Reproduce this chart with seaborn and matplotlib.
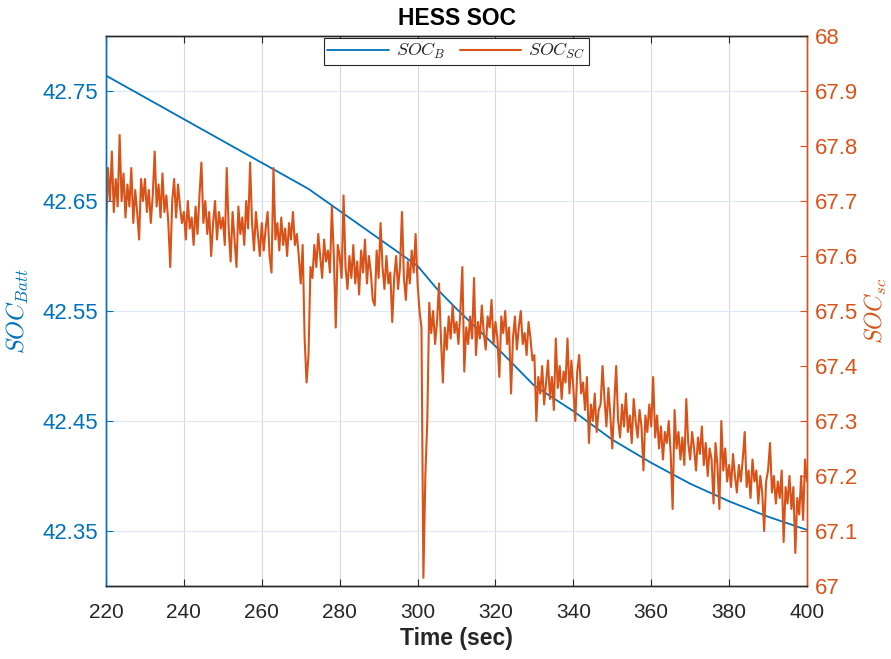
import numpy as np
import pandas as pd
import matplotlib
matplotlib.use("Agg")
import matplotlib.pyplot as plt
import seaborn as sns

# battery SOC (left axis), read at a few break points
t_batt = [220, 272, 280, 290, 300, 305, 310, 320, 330, 340, 350, 360, 370, 380, 390, 400]
soc_batt = [42.764, 42.661, 42.641, 42.616, 42.591, 42.570, 42.552, 42.518, 42.482,
            42.459, 42.433, 42.412, 42.393, 42.377, 42.363, 42.351]

# supercap SOC (right axis), sampled every 0.5 s from 220 to 400
t_sc_start, t_sc_step = 220.0, 0.5
soc_sc = [
    # 220
    67.64, 67.76, 67.70, 67.79, 67.68, 67.74, 67.69, 67.82, 67.70, 67.75,
    67.67, 67.73, 67.69, 67.76, 67.66, 67.72, 67.68, 67.63, 67.74, 67.70,
    # 230
    67.74, 67.68, 67.72, 67.66, 67.71, 67.79, 67.69, 67.73, 67.67, 67.75,
    67.68, 67.71, 67.66, 67.58, 67.70, 67.74, 67.67, 67.73, 67.69, 67.66,
    # 240
    67.68, 67.63, 67.70, 67.65, 67.67, 67.62, 67.69, 67.64, 67.71, 67.77,
    67.66, 67.70, 67.64, 67.68, 67.60, 67.66, 67.70, 67.63, 67.68, 67.65,
    # 250
    67.67, 67.62, 67.76, 67.65, 67.59, 67.68, 67.63, 67.58, 67.69, 67.64,
    67.67, 67.62, 67.70, 67.65, 67.77, 67.66, 67.61, 67.68, 67.64, 67.60,
    # 260
    67.66, 67.61, 67.65, 67.68, 67.60, 67.57, 67.76, 67.63, 67.66, 67.61,
    67.67, 67.62, 67.65, 67.60, 67.66, 67.63, 67.68, 67.62, 67.64, 67.60,
    # 270
    67.55, 67.62, 67.45, 67.37, 67.42, 67.58, 67.56, 67.62, 67.58, 67.64,
    67.60, 67.56, 67.63, 67.59, 67.61, 67.57, 67.69, 67.60, 67.47, 67.62,
    # 280
    67.60, 67.56, 67.71, 67.58, 67.54, 67.60, 67.56, 67.62, 67.55, 67.59,
    67.53, 67.61, 67.57, 67.63, 67.55, 67.60, 67.57, 67.52, 67.51, 67.61,
    # 290
    67.56, 67.66, 67.58, 67.54, 67.60, 67.55, 67.57, 67.48, 67.56, 67.60,
    67.54, 67.58, 67.68, 67.56, 67.52, 67.59, 67.55, 67.61, 67.57, 67.64,
    # 300
    67.55, 67.50, 67.47, 67.015, 67.20, 67.30, 67.515, 67.46, 67.50, 67.44,
    67.48, 67.55, 67.45, 67.37, 67.47, 67.43, 67.49, 67.45, 67.51, 67.46,
    # 310
    67.48, 67.44, 67.50, 67.58, 67.39, 67.47, 67.44, 67.49, 67.45, 67.56,
    67.42, 67.48, 67.45, 67.51, 67.46, 67.43, 67.49, 67.47, 67.52, 67.44,
    # 320
    67.48, 67.45, 67.38, 67.49, 67.46, 67.50, 67.44, 67.47, 67.35, 67.45,
    67.49, 67.43, 67.47, 67.50, 67.44, 67.46, 67.42, 67.48, 67.45, 67.41,
    # 330
    67.42, 67.30, 67.38, 67.35, 67.40, 67.33, 67.37, 67.41, 67.34, 67.38,
    67.32, 67.45, 67.36, 67.40, 67.34, 67.39, 67.37, 67.45, 67.35, 67.41,
    # 340
    67.36, 67.30, 67.39, 67.42, 67.35, 67.37, 67.32, 67.38, 67.26, 67.33,
    67.30, 67.35, 67.28, 67.32, 67.33, 67.40, 67.34, 67.29, 67.36, 67.31,
    # 350
    67.25, 67.33, 67.40, 67.30, 67.27, 67.33, 67.29, 67.35, 67.28, 67.31,
    67.26, 67.34, 67.30, 67.27, 67.32, 67.29, 67.21, 67.31, 67.28, 67.33,
    # 360
    67.29, 67.38, 67.27, 67.31, 67.25, 67.29, 67.23, 67.28, 67.26, 67.30,
    67.24, 67.14, 67.32, 67.25, 67.28, 67.23, 67.27, 67.22, 67.34, 67.26,
    # 370
    67.23, 67.28, 67.25, 67.21, 67.27, 67.24, 67.29, 67.22, 67.26, 67.20,
    67.25, 67.23, 67.15, 67.26, 67.22, 67.14, 67.30, 67.21, 67.25, 67.19,
    # 380
    67.22, 67.18, 67.24, 67.20, 67.17, 67.22, 67.19, 67.23, 67.28, 67.18,
    67.21, 67.16, 67.23, 67.19, 67.21, 67.15, 67.20, 67.17, 67.10, 67.19,
    # 390
    67.21, 67.26, 67.17, 67.20, 67.15, 67.19, 67.16, 67.21, 67.08, 67.18,
    67.15, 67.20, 67.14, 67.18, 67.06, 67.16, 67.13, 67.20, 67.12, 67.23,
    # 400
    67.19,
]
t_sc = t_sc_start + t_sc_step * np.arange(len(soc_sc))

x_ticks = [220, 240, 260, 280, 300, 320, 340, 360, 380, 400]
left_ticks = [42.35, 42.45, 42.55, 42.65, 42.75]
right_ticks = [67.0, 67.1, 67.2, 67.3, 67.4, 67.5, 67.6, 67.7, 67.8, 67.9, 68.0]
right_labels = ['67', '67.1', '67.2', '67.3', '67.4', '67.5', '67.6', '67.7', '67.8', '67.9', '68']

BLUE = '#0072BD'
ORANGE = '#D95319'
DARK = '#262626'

sns.set_theme(style='white')
plt.rcParams['font.family'] = ['Liberation Sans', 'DejaVu Sans']
plt.rcParams['mathtext.fontset'] = 'cm'

fig = plt.figure(figsize=(8.91, 6.59), dpi=100)
ax = fig.add_axes([106/891, 1 - 586/659, 701/891, 550/659])
ax2 = ax.twinx()

df_b = pd.DataFrame({'t': t_batt, 'soc': soc_batt})
df_s = pd.DataFrame({'t': t_sc, 'soc': soc_sc})
sns.lineplot(data=df_b, x='t', y='soc', ax=ax, color=BLUE, lw=1.3, label='$SOC_B$', legend=False)
sns.lineplot(data=df_s, x='t', y='soc', ax=ax2, color=ORANGE, lw=1.5, label='$SOC_{SC}$', legend=False)

ax.set_xlim(220, 400)
ax.set_ylim(42.30, 42.80)
ax2.set_ylim(67.0, 68.0)
ax.set_xticks(x_ticks)
ax.set_yticks(left_ticks)
ax.set_yticklabels([f'{v:.2f}' for v in left_ticks])
ax2.set_yticks(right_ticks)
ax2.set_yticklabels(right_labels)

# grid
ax.grid(True, axis='x', color='#d9d9d9', lw=0.8)
ax.grid(True, axis='y', color='#dce9f5', lw=0.8)
ax.set_axisbelow(True)

# ticks
ax.tick_params(axis='x', direction='in', length=5, colors=DARK, labelsize=15,
               top=True, bottom=True, pad=12, width=0.8)
ax.tick_params(axis='y', direction='in', length=5, colors=BLUE, labelsize=16,
               left=True, right=False, pad=6, width=0.8)
ax2.tick_params(axis='y', direction='in', length=5, colors=ORANGE, labelsize=16,
                right=True, pad=6, width=0.8)

for a in (ax, ax2):
    a.spines['top'].set_color(DARK)
    a.spines['bottom'].set_color(DARK)
    a.spines['left'].set_color(BLUE)
    a.spines['right'].set_color(ORANGE)
    for s in a.spines.values():
        s.set_linewidth(1.0)
        s.set_visible(True)

ax.set_xlabel('Time (sec)', fontsize=16.5, fontweight='bold', color=DARK, labelpad=4)
ax.set_ylabel('$SOC_{Batt}$', fontsize=17.5, color=BLUE, labelpad=8)
ax2.set_ylabel('$SOC_{sc}$', fontsize=17, color=ORANGE, labelpad=3)
ax.set_title('HESS SOC', fontsize=16.5, fontweight='bold', color='black', pad=8)

h1, l1 = ax.get_legend_handles_labels()
h2, l2 = ax2.get_legend_handles_labels()
leg = ax2.legend(h1 + h2, l1 + l2, loc='upper center', ncol=2, fontsize=13,
                 frameon=True, fancybox=False, edgecolor=DARK, framealpha=1,
                 handlelength=3.4, borderaxespad=0.1, columnspacing=0.8,
                 borderpad=0.2, handletextpad=0.4)
leg.get_frame().set_linewidth(0.8)

fig.savefig('out.png', dpi=100)
